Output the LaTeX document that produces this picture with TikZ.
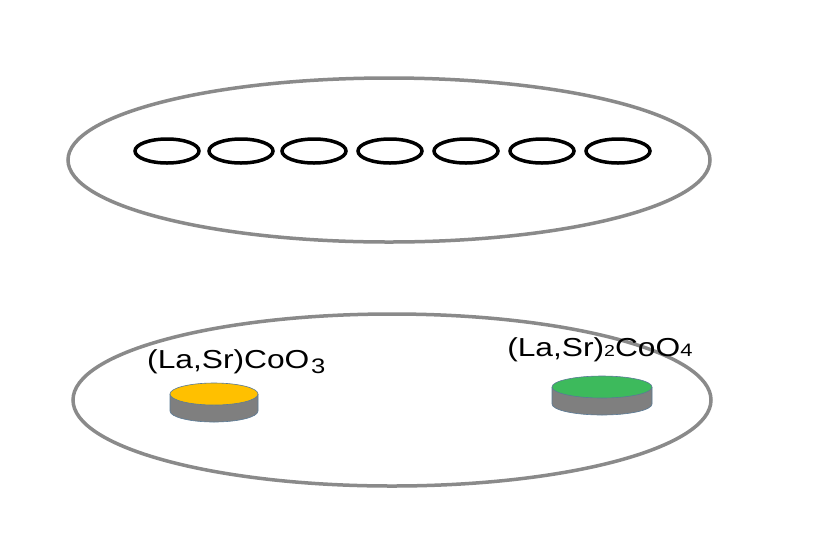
\documentclass[tikz,border=0pt]{standalone}
\usepackage{fontspec}
\setmainfont{Liberation Sans}
\usepackage{tikz}
\usetikzlibrary{positioning}

\definecolor{holdergray}{HTML}{8A8A8A}
\definecolor{sidegray}{HTML}{7F7F7F}
\definecolor{rimblue}{HTML}{5A7A96}
\definecolor{lscyellow}{HTML}{FFC000}
\definecolor{lscgreen}{HTML}{3DBA5C}

\tikzset{
    holder/.style={draw=holdergray, line width=3.5pt},
    ring/.style={draw=black, line width=3.5pt},
    label/.style={anchor=base west, inner sep=0pt, xscale=1.22, font=\fontsize{26}{30}\selectfont}
}

\begin{document}
\begin{tikzpicture}[x=1pt, y=-1pt]
    \useasboundingbox [fill=white] (0,0) rectangle (840,539);

    % Upper and lower holders
    \draw [holder] (389,160) ellipse [x radius=321pt, y radius=82pt];
    \draw [holder] (392,400) ellipse [x radius=319pt, y radius=86pt];

    % Rings in the upper holder
    \foreach \x in {167, 241, 314, 390, 466, 542, 618} {
        \draw [ring] (\x,151) ellipse [x radius=32pt, y radius=12pt];
    }

    % Pellets: x/y of top face, x radius, colour
    \foreach \x/\y/\r/\col in {214/394/44/lscyellow, 602/387/50/lscgreen} {
        \fill [sidegray] (\x-\r,\y) -- (\x-\r,\y+17) arc [start angle=180, end angle=360, x radius=\r pt, y radius=11pt]
            -- (\x+\r,\y) -- cycle;
        \draw [rimblue, line width=0.6pt] (\x-\r,\y) -- (\x-\r,\y+17) arc [start angle=180, end angle=360, x radius=\r pt, y radius=11pt]
            -- (\x+\r,\y);
        \draw [rimblue, line width=0.6pt, fill=\col] (\x,\y) ellipse [x radius=\r pt, y radius=11pt];
    }

    % Labels
    \node [label] (lsco) at (147,368) {(La,Sr)CoO\kern1.5pt\raisebox{-5pt}{\fontsize{21}{21}\selectfont 3}};
    \node [label] (lsco214) at (507,356) {(La,Sr){\fontsize{16}{16}\selectfont 2}CoO{\fontsize{18}{18}\selectfont 4}};
\end{tikzpicture}
\end{document}
